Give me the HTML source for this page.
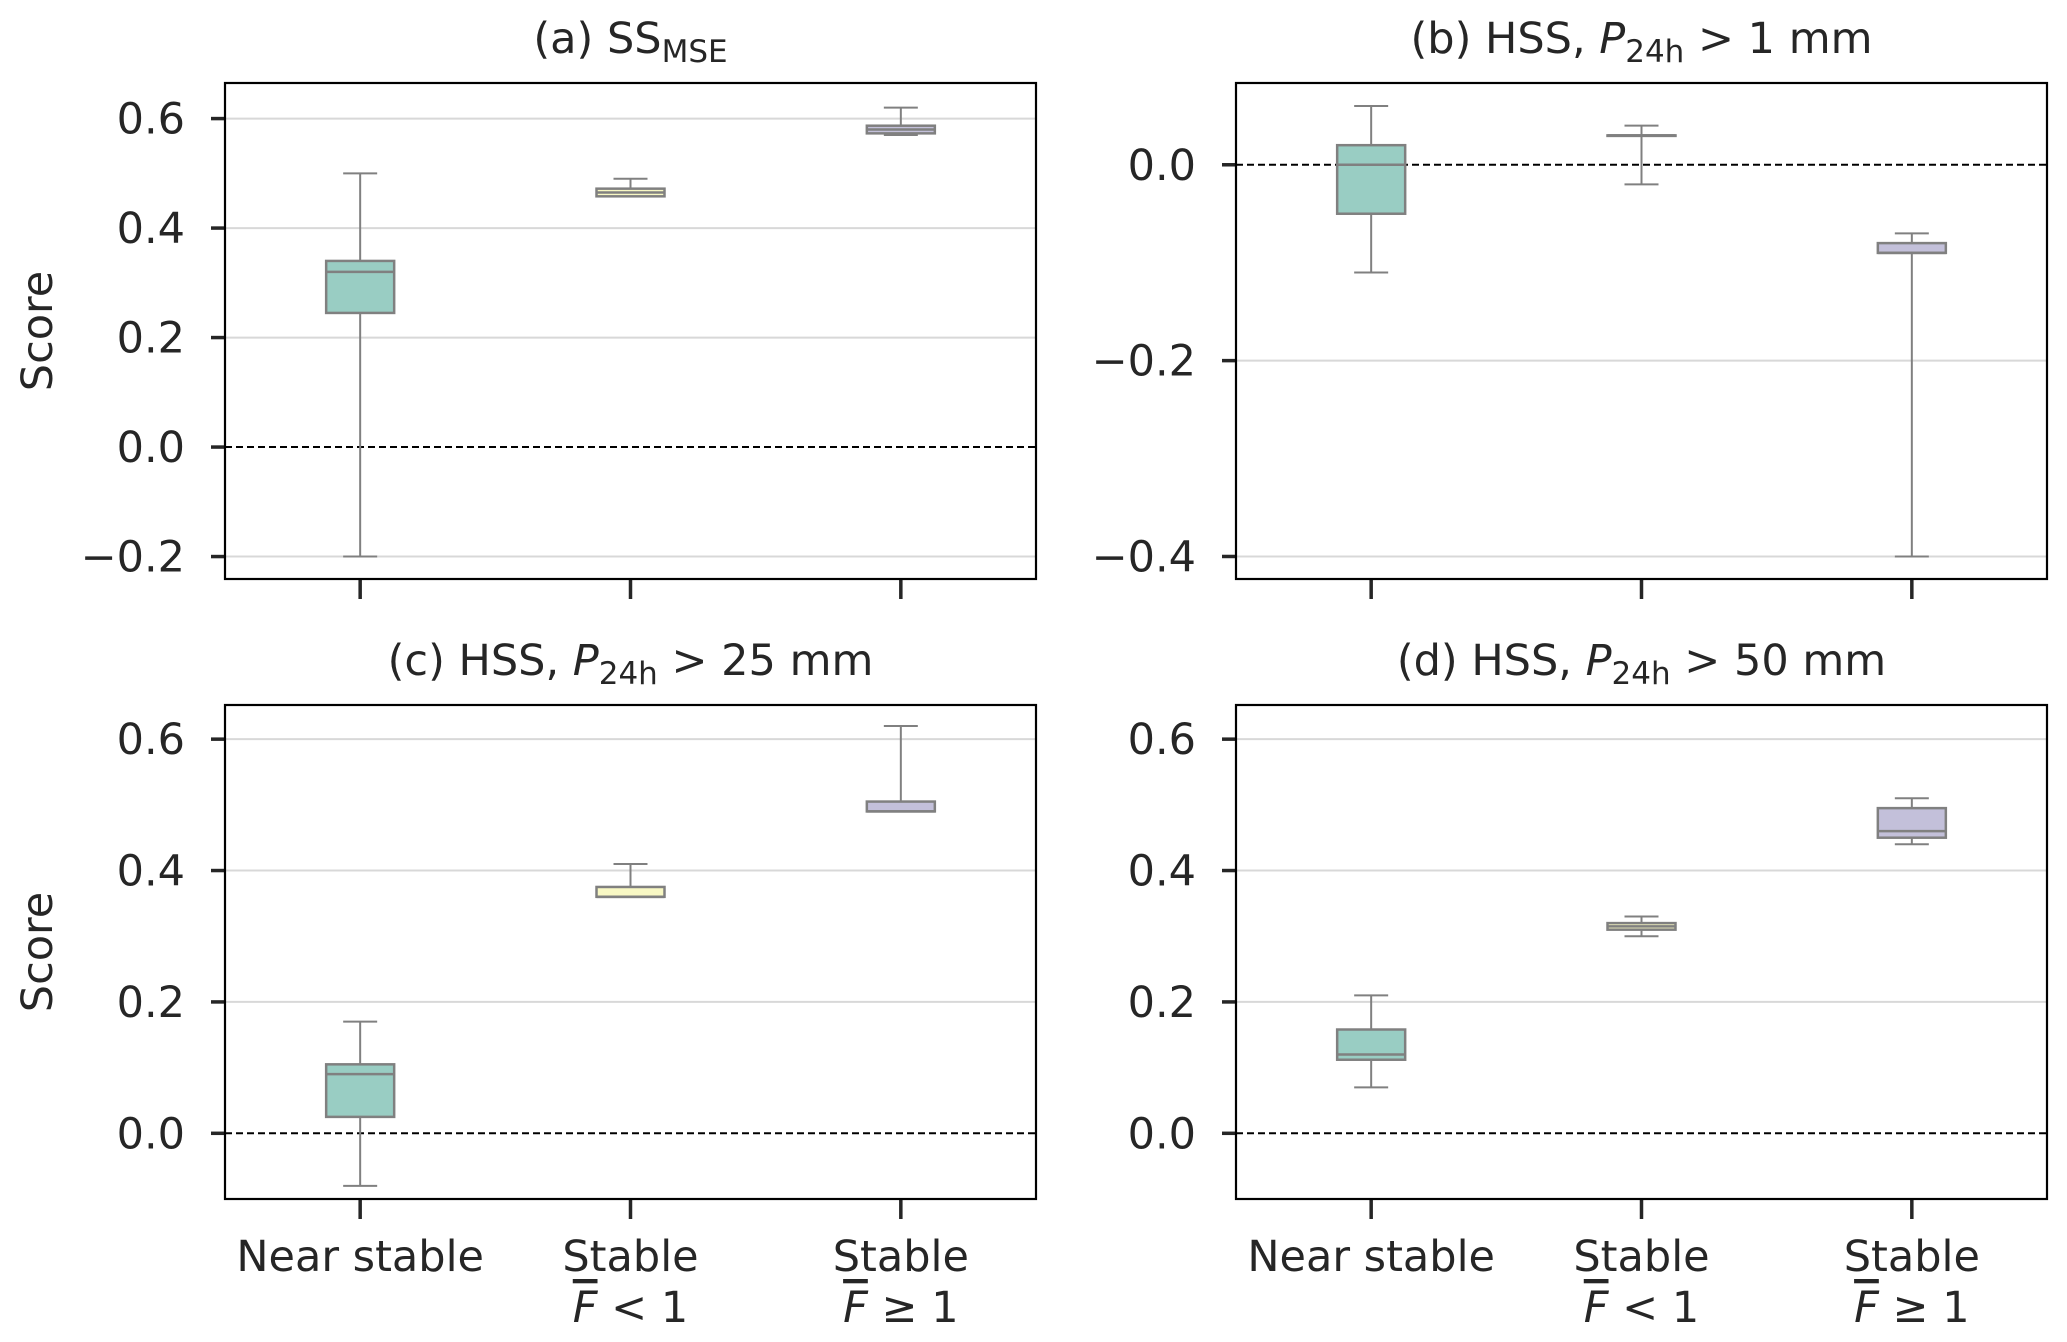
<!DOCTYPE html>
<html><head><meta charset="utf-8"><style>
html,body{margin:0;padding:0;background:#fff;}
svg{display:block;font-family:"DejaVu Sans","Liberation Sans",sans-serif;}
</style></head><body>
<svg id="chart" width="2067" height="1342" viewBox="0 0 2067 1342" xmlns="http://www.w3.org/2000/svg"></svg>
<script>
const categories = ["Near stable", "Stable F<1", "Stable F>=1"];
// each box: [whiskerLow, q1, median, q3, whiskerHigh]
const panelA = [[-0.2,0.245,0.32,0.34,0.5],[0.458,0.458,0.465,0.472,0.49],[0.57,0.573,0.58,0.587,0.62]];
const panelB = [[-0.11,-0.05,0.0,0.02,0.06],[-0.02,0.03,0.03,0.03,0.04],[-0.4,-0.09,-0.09,-0.08,-0.07]];
const panelC = [[-0.08,0.025,0.09,0.105,0.17],[0.36,0.36,0.36,0.375,0.41],[0.49,0.49,0.49,0.505,0.62]];
const panelD = [[0.07,0.112,0.12,0.158,0.21],[0.30,0.31,0.315,0.32,0.33],[0.44,0.45,0.46,0.495,0.51]];
const ticksA = [-0.2,0.0,0.2,0.4,0.6];
const ticksB = [-0.4,-0.2,0.0];
const ticksCD = [0.0,0.2,0.4,0.6];
const colors = ["#99cdc3","#f8f8c4","#c3c0da"];

const svg = document.getElementById('chart');
const NS = "http://www.w3.org/2000/svg";
function mk(tag, attrs, parent){const e=document.createElementNS(NS,tag);for(const k in attrs)e.setAttribute(k,attrs[k]);(parent||svg).appendChild(e);return e;}
function fmt(v){return (v<0?"\u2212":"")+Math.abs(v).toFixed(1);}

const panels = [
 {id:"a",data:panelA,ticks:ticksA,x0:225,x1:1036,y0:83,y1:579,ymin:-0.241,ymax:0.665,ylab:true,xlab:false},
 {id:"b",data:panelB,ticks:ticksB,x0:1236,x1:2047,y0:83,y1:579,ymin:-0.423,ymax:0.0835,ylab:false,xlab:false},
 {id:"c",data:panelC,ticks:ticksCD,x0:225,x1:1036,y0:705,y1:1199,ymin:-0.1,ymax:0.652,ylab:true,xlab:true},
 {id:"d",data:panelD,ticks:ticksCD,x0:1236,x1:2047,y0:705,y1:1199,ymin:-0.1,ymax:0.652,ylab:false,xlab:true}
];
const titles = {
 a:'(a) SS<tspan font-size="31" dy="9">MSE</tspan>',
 b:'(b) HSS, <tspan font-style="italic">P</tspan><tspan font-size="31" dy="9">24h</tspan><tspan dy="-9"> &gt; 1 mm</tspan>',
 c:'(c) HSS, <tspan font-style="italic">P</tspan><tspan font-size="31" dy="9">24h</tspan><tspan dy="-9"> &gt; 25 mm</tspan>',
 d:'(d) HSS, <tspan font-style="italic">P</tspan><tspan font-size="31" dy="9">24h</tspan><tspan dy="-9"> &gt; 50 mm</tspan>'
};
const xFrac = [1/6,1/2,5/6];

panels.forEach(p=>{
 const g = mk('g',{});
 
 
 const ys = v => p.y1 - (v-p.ymin)/(p.ymax-p.ymin)*(p.y1-p.y0);
 const xs = i => p.x0 + xFrac[i]*(p.x1-p.x0);
 p.ticks.forEach(t=>{
  const y=ys(t);
  if(Math.abs(t)>1e-9){
   const gl=mk('line',{x1:p.x0,x2:p.x1,y1:y,y2:y,stroke:"#d8d8d8","stroke-width":2},g);
   
   
  }
  const tk=mk('line',{x1:p.x0-14,x2:p.x0,y1:y,y2:y,stroke:"#262626","stroke-width":3.5},g);
  
  
  const tl=mk('text',{x:p.x0-40,y:y+15,"text-anchor":"end","font-size":43,fill:"#262626"},g);
  tl.textContent=fmt(t);
  
  
 });
 const z=ys(0);
 const zl=mk('line',{x1:p.x0,x2:p.x1,y1:z,y2:z,stroke:"#000","stroke-width":2,"stroke-dasharray":"7,4"},g);
 
 
 const bw=68, cw=34;
 p.data.forEach((d,i)=>{
  const x=xs(i);
  const bg=mk('g',{},g);
  
  
  mk('line',{x1:x,x2:x,y1:ys(d[0]),y2:ys(d[1]),stroke:"#808080","stroke-width":2},bg);
  mk('line',{x1:x,x2:x,y1:ys(d[3]),y2:ys(d[4]),stroke:"#808080","stroke-width":2},bg);
  mk('line',{x1:x-cw/2,x2:x+cw/2,y1:ys(d[0]),y2:ys(d[0]),stroke:"#808080","stroke-width":2},bg);
  mk('line',{x1:x-cw/2,x2:x+cw/2,y1:ys(d[4]),y2:ys(d[4]),stroke:"#808080","stroke-width":2},bg);
  mk('rect',{x:x-bw/2,y:ys(d[3]),width:bw,height:Math.max(0.5,ys(d[1])-ys(d[3])),fill:colors[i],stroke:"#808080","stroke-width":2.5},bg);
  mk('line',{x1:x-bw/2,x2:x+bw/2,y1:ys(d[2]),y2:ys(d[2]),stroke:"#808080","stroke-width":2.5},bg);
  const xt=mk('line',{x1:x,x2:x,y1:p.y1,y2:p.y1+20,stroke:"#262626","stroke-width":3.5},g);
  
  
 });
 const fr=mk('rect',{x:p.x0,y:p.y0,width:p.x1-p.x0,height:p.y1-p.y0,fill:"none",stroke:"#000","stroke-width":2.2},g);
 
 
 const tt=mk('text',{x:(p.x0+p.x1)/2,y:p.y0-30,"text-anchor":"middle","font-size":43,fill:"#262626"},g);
 tt.innerHTML=titles[p.id];
 
 
 if(p.ylab){
  const cy=(p.y0+p.y1)/2;
  const yl=mk('text',{x:0,y:0,transform:`translate(${p.x0-173},${cy}) rotate(-90)`,"text-anchor":"middle","font-size":43,fill:"#262626"},g);
  yl.textContent="Score";
  
  
 }
 if(p.xlab){
  for(let i=0;i<3;i++){
   const x=xs(i);
   const l1=mk('text',{x:x,y:1271,"text-anchor":"middle","font-size":43,fill:"#262626"},g);
   l1.textContent = i===0 ? "Near stable" : "Stable";
   
   
   if(i>0){
    const l2=mk('text',{x:x,y:1322,"text-anchor":"middle","font-size":43,fill:"#262626"},g);
    l2.innerHTML='<tspan font-style="italic" text-decoration="overline">F</tspan>'+(i===1?' &lt; 1':' \u2265 1');
    
    
   }
  }
 }
});
</script>
</body></html>
